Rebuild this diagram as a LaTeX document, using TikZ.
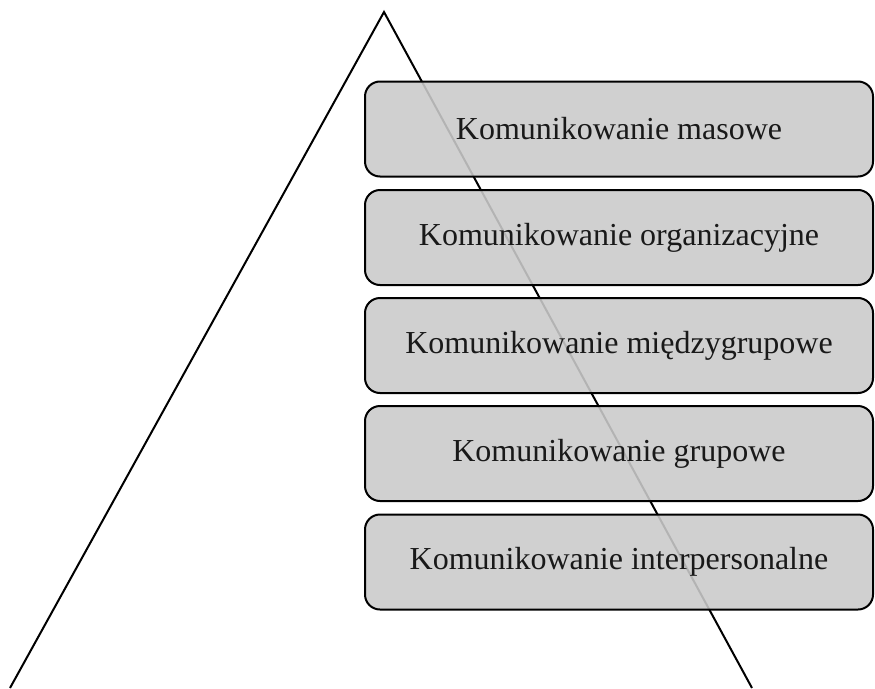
\documentclass[tikz,border=0pt]{standalone}
\usepackage{fontspec}
\setmainfont{Liberation Serif}
\definecolor{boxfill}{RGB}{202,202,202}
\begin{document}
\begin{tikzpicture}[x=1pt,y=-1pt,
  level/.style={draw=black, line width=2pt, fill=boxfill, fill opacity=0.89, text opacity=1,
    rounded corners=15pt, minimum width=508pt, minimum height=95pt, inner sep=0pt,
    font=\fontsize{32}{38}\selectfont, text=black!90}]
\useasboundingbox (0,0) rectangle (875,688);
\coordinate (apex) at (384,12);
\coordinate (bl) at (10,688);
\coordinate (br) at (752,688);
\draw[line width=2pt, line join=miter] (bl) -- (apex) -- (br);
\node[level] (m) at (619,129) {Komunikowanie masowe};
\node[level] (o) at (619,237.5) {Komunikowanie organizacyjne};
\node[level] (mg) at (619,345.5) {Komunikowanie międzygrupowe};
\node[level] (g) at (619,453.5) {Komunikowanie grupowe};
\node[level] (i) at (619,562) {Komunikowanie interpersonalne};
\end{tikzpicture}
\end{document}
